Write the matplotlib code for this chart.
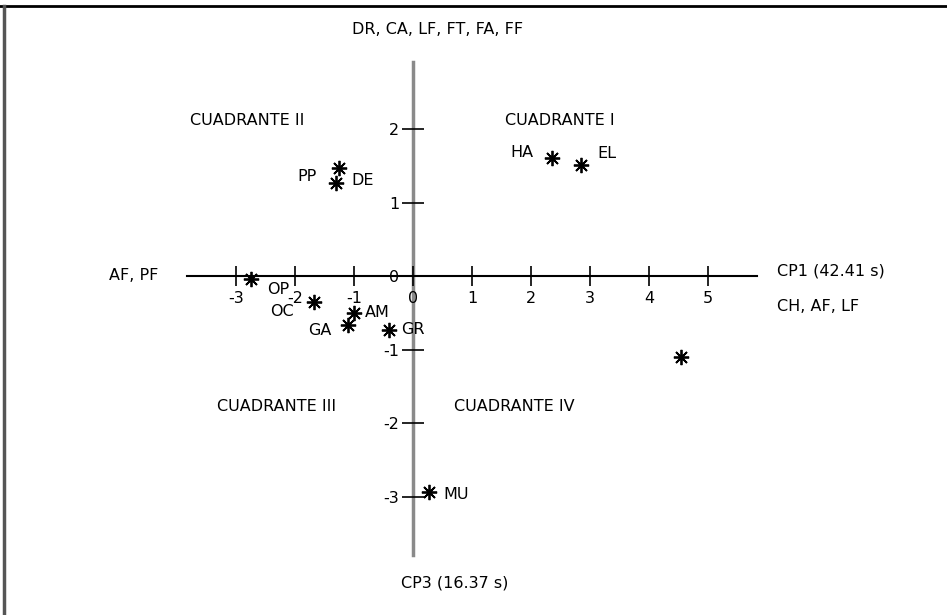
import matplotlib.pyplot as plt
from matplotlib.lines import Line2D

# Coordenadas de los puntos (CP1, CP3)
etiquetas = ['HA', 'EL', 'PP', 'DE', 'OP', 'OC', 'AM', 'GA', 'GR', '', 'MU']
cp1 = [2.36, 2.85, -1.25, -1.31, -2.75, -1.68, -1.00, -1.10, -0.41, 4.54, 0.27]
cp3 = [1.61, 1.51, 1.47, 1.27, -0.04, -0.35, -0.50, -0.67, -0.73, -1.10, -2.94]

ticks_x = [-3, -2, -1, 0, 1, 2, 3, 4, 5]
ticks_y = [-3, -2, -1, 0, 1, 2]

# desplazamiento de cada etiqueta respecto a su punto (pixeles)
desp = {'HA': (-30, 5), 'EL': (26, 12), 'PP': (-32, -9), 'DE': (27, 2),
        'OP': (27, -11), 'OC': (-32, -10), 'AM': (23, 0), 'GA': (-28, -5),
        'GR': (24, 0), 'MU': (27, -2)}

plt.rcParams['font.family'] = ['DejaVu Sans']
fs = 11.5

fig = plt.figure(figsize=(9.47, 6.15), dpi=100)
ax = fig.add_axes([0, 0, 1, 1])
ax.set_xlim(-7.0, 9.05)
ax.set_ylim(-4.612, 3.755)

for lado in ['top', 'right']:
    ax.spines[lado].set_visible(False)
ax.spines['bottom'].set_position(('data', 0))
ax.spines['left'].set_position(('data', 0))
ax.spines['bottom'].set_bounds(-3.83, 5.83)
ax.spines['left'].set_bounds(-3.8, 2.91)
ax.spines['bottom'].set_linewidth(1.5)
ax.spines['left'].set_linewidth(2.5)
ax.spines['left'].set_color('#8a8a8a')
ax.spines['left'].set_zorder(1)

ax.set_xticks(ticks_x)
ax.set_yticks(ticks_y)
ax.set_xticklabels([str(t) for t in ticks_x], fontsize=fs)
ax.set_yticklabels([str(t) for t in ticks_y], fontsize=fs)
ax.tick_params(axis='x', direction='inout', length=15, width=1.2, pad=3, colors='black')
ax.tick_params(axis='y', direction='inout', length=16, width=1.2, pad=2, colors='black')
ax.patch.set_alpha(0)

ax.plot(cp1, cp3, linestyle='none', marker=(8, 2, 0), markersize=11,
        markeredgewidth=1.3, color='black', zorder=3)

for x, y, e in zip(cp1, cp3, etiquetas):
    if e:
        ax.annotate(e, (x, y), xytext=desp[e], textcoords='offset pixels',
                    ha='center', va='center', fontsize=fs)

ax.text(-2.81, 2.12, 'CUADRANTE II', ha='center', va='center', fontsize=fs)
ax.text(2.49, 2.12, 'CUADRANTE I', ha='center', va='center', fontsize=fs)
ax.text(-2.31, -1.78, 'CUADRANTE III', ha='center', va='center', fontsize=fs)
ax.text(1.71, -1.78, 'CUADRANTE IV', ha='center', va='center', fontsize=fs)
ax.text(0.42, 3.35, 'DR, CA, LF, FT, FA, FF', ha='center', va='center', fontsize=fs)
ax.text(-4.73, 0.01, 'AF, PF', ha='center', va='center', fontsize=fs)
ax.text(6.17, 0.07, 'CP1 (42.41 s)', ha='left', va='center', fontsize=fs)
ax.text(6.17, -0.41, 'CH, AF, LF', ha='left', va='center', fontsize=fs)
ax.text(0.71, -4.18, 'CP3 (16.37 s)', ha='center', va='center', fontsize=fs)

# marco de la figura
fig.add_artist(Line2D([0, 1], [1 - 6 / 615, 1 - 6 / 615], color='black', linewidth=2))
fig.add_artist(Line2D([3.5 / 947, 3.5 / 947], [0, 1 - 6 / 615], color='#555555', linewidth=2.5))

fig.savefig('out.png', dpi=100)
